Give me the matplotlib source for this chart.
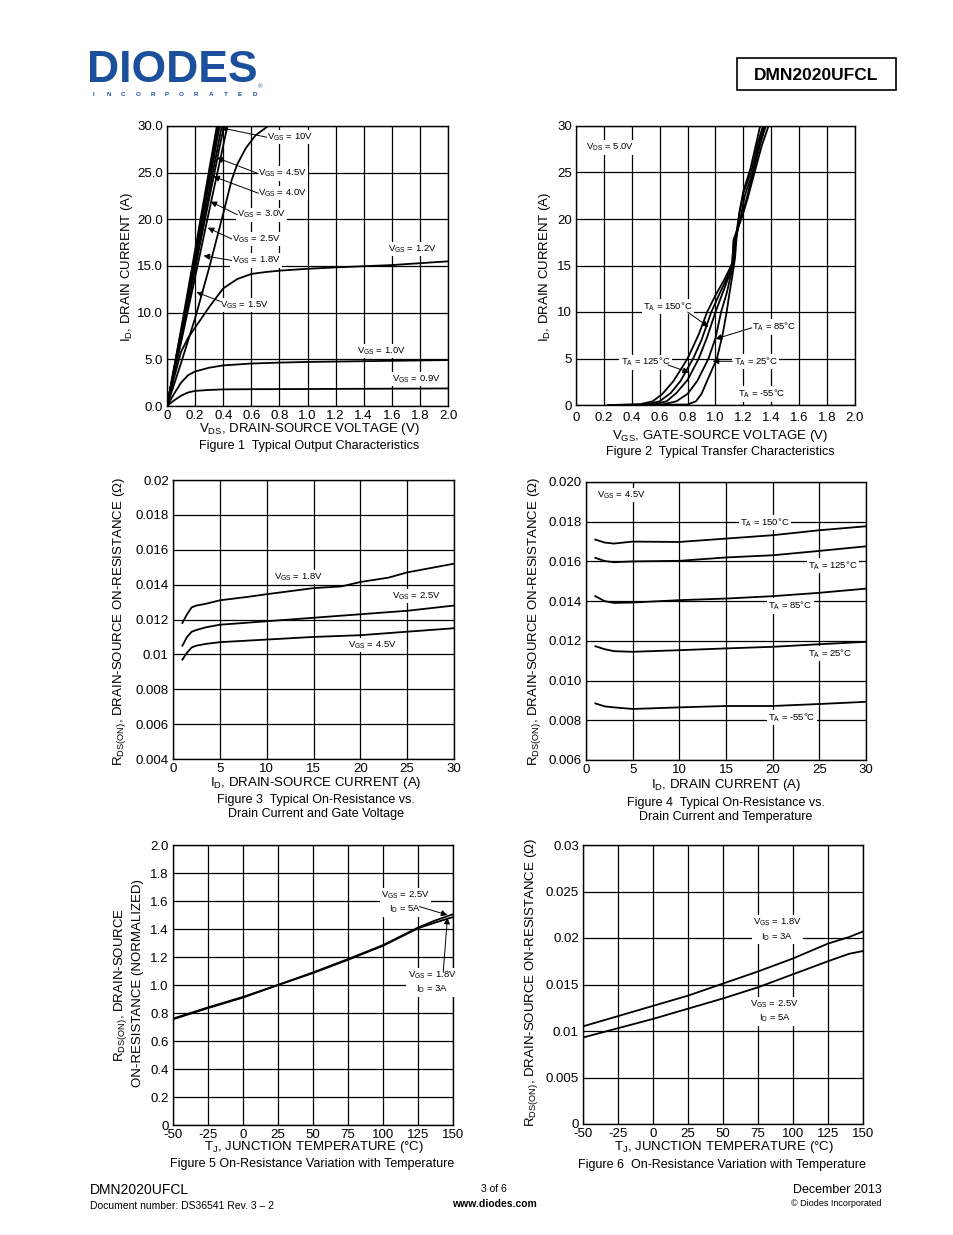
import numpy as np
import matplotlib
matplotlib.use("Agg")
import matplotlib.pyplot as plt

plt.rcParams['font.family'] = ['Liberation Sans', 'DejaVu Sans']
plt.rcParams['mathtext.fontset'] = 'custom'
plt.rcParams['mathtext.rm'] = 'Liberation Sans'
plt.rcParams['mathtext.it'] = 'Liberation Sans'
plt.rcParams['mathtext.bf'] = 'Liberation Sans:bold'

# ---- Figure 1: output characteristics (VDS, ID) per VGS
vds_10v = [0, 0.1, 0.2, 0.3, 0.355]
id_10v = [0, 8.2, 16.7, 25.3, 30]
vds_45v = [0, 0.1, 0.2, 0.3, 0.365]
id_45v = [0, 8.0, 16.3, 24.6, 30]
vds_40v = [0, 0.1, 0.2, 0.3, 0.375]
id_40v = [0, 7.8, 15.9, 23.9, 30]
vds_30v = [0, 0.1, 0.2, 0.3, 0.39]
id_30v = [0, 7.5, 15.3, 23.0, 30]
vds_25v = [0, 0.1, 0.2, 0.3, 0.405]
id_25v = [0, 7.2, 14.7, 22.2, 30]
vds_18v = [0, 0.1, 0.2, 0.3, 0.43]
id_18v = [0, 6.8, 13.8, 20.9, 30]
vds_15v = [0, 0.1, 0.2, 0.3, 0.4, 0.46, 0.5, 0.56, 0.63, 0.72]
id_15v = [0, 4.6, 9.4, 14.8, 20.6, 24.2, 25.9, 27.6, 29.0, 30.0]
vds_12v = [0, 0.05, 0.1, 0.15, 0.2, 0.3, 0.4, 0.5, 0.6, 0.7, 0.8, 1.0, 1.2, 1.6, 2.0]
id_12v = [0, 3.0, 5.8, 7.3, 8.4, 10.6, 12.6, 13.6, 14.15, 14.35, 14.5, 14.7, 14.85, 15.1, 15.5]
vds_10 = [0, 0.05, 0.1, 0.15, 0.2, 0.3, 0.4, 0.6, 0.8, 1.0, 1.5, 2.0]
id_10 = [0, 1.3, 2.5, 3.3, 3.7, 4.1, 4.35, 4.55, 4.65, 4.72, 4.82, 4.92]
vds_09 = [0, 0.05, 0.1, 0.15, 0.2, 0.3, 0.4, 0.6, 1.0, 1.5, 2.0]
id_09 = [0, 0.6, 1.1, 1.45, 1.62, 1.72, 1.78, 1.8, 1.82, 1.85, 1.88]

# ---- Figure 2: transfer characteristics (VGS, ID) per TA
vgs_150 = [0.23, 0.45, 0.55, 0.62, 0.7, 0.8, 0.88, 0.94, 1.0, 1.06, 1.12, 1.13, 1.19, 1.23, 1.28, 1.33, 1.38]
id_150 = [0, 0.05, 0.4, 1.2, 2.6, 5.0, 7.6, 10.0, 11.8, 13.4, 15.2, 17.8, 20.2, 22.2, 25.0, 27.8, 30.0]
vgs_125 = [0.23, 0.5, 0.6, 0.68, 0.75, 0.84, 0.9, 0.97, 1.03, 1.08, 1.12, 1.13, 1.18, 1.22, 1.27, 1.32, 1.36]
id_125 = [0, 0.05, 0.4, 1.3, 2.6, 5.0, 7.0, 10.0, 12.0, 13.6, 15.3, 17.6, 20.0, 22.0, 25.0, 28.0, 30.0]
vgs_85 = [0.23, 0.55, 0.65, 0.72, 0.8, 0.88, 0.94, 1.0, 1.05, 1.1, 1.13, 1.14, 1.18, 1.21, 1.27, 1.31, 1.35]
id_85 = [0, 0.05, 0.4, 1.3, 2.7, 5.0, 7.3, 10.0, 12.0, 14.0, 15.5, 17.5, 20.2, 22.5, 25.2, 28.0, 30.0]
vgs_25 = [0.23, 0.62, 0.72, 0.8, 0.87, 0.95, 1.0, 1.04, 1.08, 1.11, 1.13, 1.14, 1.17, 1.2, 1.26, 1.3, 1.34]
id_25 = [0, 0.05, 0.4, 1.2, 2.6, 5.0, 7.2, 10.0, 12.0, 14.0, 15.6, 17.6, 20.5, 22.8, 25.3, 28.0, 30.0]
vgs_m55 = [0.23, 0.8, 0.86, 0.9, 0.94, 1.01, 1.05, 1.08, 1.1, 1.12, 1.14, 1.15, 1.17, 1.2, 1.25, 1.29, 1.32]
id_m55 = [0, 0.05, 0.4, 1.2, 2.6, 5.0, 7.5, 10.0, 12.0, 13.8, 15.8, 17.8, 20.6, 23.0, 25.4, 28.0, 30.0]

# ---- Figure 3: RDS(ON) vs ID per VGS
id3_18 = [1, 1.5, 2, 2.5, 3.5, 5, 8, 10, 15, 18, 20, 23, 25, 28, 30]
r3_18 = [0.0118, 0.0123, 0.0127, 0.0128, 0.0129, 0.0131, 0.0133, 0.01345, 0.0138, 0.0139,
         0.01415, 0.0144, 0.0147, 0.0150, 0.0152]
id3_25 = [1, 1.5, 2, 2.5, 3.5, 5, 10, 15, 20, 25, 30]
r3_25 = [0.0105, 0.0110, 0.0113, 0.0114, 0.01155, 0.0117, 0.0119, 0.0121, 0.0123, 0.0125, 0.0128]
id3_45 = [1, 1.5, 2, 2.5, 3.5, 5, 10, 15, 20, 25, 30]
r3_45 = [0.0097, 0.0101, 0.0104, 0.0105, 0.0106, 0.0107, 0.01085, 0.0110, 0.0111, 0.0113, 0.0115]

# ---- Figure 4: RDS(ON) vs ID per TA
id4 = [1, 2, 3, 5, 10, 15, 20, 25, 30]
r4_150 = [0.0171, 0.01695, 0.0169, 0.0170, 0.01698, 0.01715, 0.01732, 0.01757, 0.01777]
r4_125 = [0.01618, 0.01602, 0.01596, 0.01600, 0.01603, 0.0162, 0.01631, 0.01653, 0.01676]
r4_85 = [0.01425, 0.01400, 0.01391, 0.01393, 0.01405, 0.01413, 0.01425, 0.01442, 0.01463]
r4_25 = [0.01173, 0.01158, 0.01148, 0.01145, 0.01153, 0.01162, 0.0117, 0.01183, 0.01195]
r4_m55 = [0.00885, 0.00870, 0.00865, 0.00857, 0.00865, 0.00872, 0.00872, 0.00882, 0.00893]

# ---- Figure 5: normalized RDS(ON) vs TJ
tj5 = [-50, -25, 0, 25, 50, 75, 100, 112, 125, 137, 150]
rn_25v = [0.76, 0.84, 0.915, 1.0, 1.09, 1.185, 1.285, 1.345, 1.41, 1.46, 1.505]
rn_18v = [0.755, 0.835, 0.91, 1.0, 1.085, 1.18, 1.28, 1.34, 1.405, 1.445, 1.485]

# ---- Figure 6: RDS(ON) vs TJ
tj6 = [-50, -25, 0, 25, 50, 75, 100, 125, 140, 150]
r6_18v = [0.0105, 0.0116, 0.0127, 0.0138, 0.0151, 0.0164, 0.0178, 0.0194, 0.0201, 0.0207]
r6_25v = [0.0093, 0.0103, 0.0113, 0.0124, 0.0135, 0.0147, 0.0161, 0.0175, 0.0183, 0.0186]

W, H = 954, 1235
fig = plt.figure(figsize=(W / 100, H / 100), dpi=100)
fig.patch.set_facecolor('white')

TICK_FS = 9.5
LAB_FS = 9.5
ANN_FS = 6.8
LW = 1.3


def add_ax(x0, y0, x1, y1):
    return fig.add_axes([x0 / W, 1 - y1 / H, (x1 - x0) / W, (y1 - y0) / H])


def ftext(x, y, s, **kw):
    kw.setdefault('fontsize', LAB_FS)
    kw.setdefault('ha', 'center')
    kw.setdefault('va', 'center')
    fig.text(x / W, 1 - y / H, s, **kw)


def setup(ax, xlim, ylim, xt, xtl, yt, ytl):
    ax.set_xlim(xlim)
    ax.set_ylim(ylim)
    ax.set_xticks(xt)
    ax.set_xticklabels(xtl)
    ax.set_yticks(yt)
    ax.set_yticklabels(ytl)
    ax.grid(True, color='black', lw=0.9)
    ax.set_axisbelow(True)
    ax.tick_params(length=0, labelsize=TICK_FS, pad=3)
    for s in ax.spines.values():
        s.set_linewidth(1.0)


def label(ax, x, y, s, **kw):
    kw.setdefault('ha', 'left')
    kw.setdefault('va', 'center')
    ax.text(x, y, s, fontsize=ANN_FS, zorder=5,
            bbox=dict(facecolor='white', edgecolor='none', pad=1.0), **kw)


def arrow(ax, tail, tip):
    ax.annotate('', xy=tip, xytext=tail, zorder=6,
                arrowprops=dict(arrowstyle='-|>', color='black', lw=0.7,
                                mutation_scale=9, shrinkA=0, shrinkB=0))


# ---------------- Figure 1
ax1 = add_ax(167, 126, 448, 406)
setup(ax1, (0, 2.0), (0, 30),
      np.arange(0, 2.01, 0.2), ['0', '0.2', '0.4', '0.6', '0.8', '1.0', '1.2', '1.4', '1.6', '1.8', '2.0'],
      np.arange(0, 30.1, 5), ['0.0', '5.0', '10.0', '15.0', '20.0', '25.0', '30.0'])
for xs, ys in [(vds_10v, id_10v), (vds_45v, id_45v), (vds_40v, id_40v), (vds_30v, id_30v),
               (vds_25v, id_25v), (vds_18v, id_18v), (vds_15v, id_15v), (vds_12v, id_12v),
               (vds_10, id_10), (vds_09, id_09)]:
    ax1.plot(xs, ys, color='black', lw=LW, zorder=3)
label(ax1, 0.71, 28.8, r'V$_{\mathrm{GS}}$ = 10V')
arrow(ax1, (0.71, 28.8), (0.385, 29.8))
label(ax1, 0.65, 24.9, r'V$_{\mathrm{GS}}$ = 4.5V')
arrow(ax1, (0.65, 24.9), (0.355, 26.6))
label(ax1, 0.65, 22.8, r'V$_{\mathrm{GS}}$ = 4.0V')
arrow(ax1, (0.65, 22.8), (0.33, 24.6))
label(ax1, 0.50, 20.5, r'V$_{\mathrm{GS}}$ = 3.0V')
arrow(ax1, (0.50, 20.5), (0.31, 21.9))
label(ax1, 0.46, 17.9, r'V$_{\mathrm{GS}}$ = 2.5V')
arrow(ax1, (0.46, 17.9), (0.29, 19.1))
label(ax1, 0.46, 15.6, r'V$_{\mathrm{GS}}$ = 1.8V')
arrow(ax1, (0.46, 15.6), (0.26, 16.1))
label(ax1, 0.38, 10.8, r'V$_{\mathrm{GS}}$ = 1.5V')
arrow(ax1, (0.38, 11.2), (0.21, 12.2))
label(ax1, 1.57, 16.8, r'V$_{\mathrm{GS}}$ = 1.2V')
label(ax1, 1.35, 5.9, r'V$_{\mathrm{GS}}$ = 1.0V')
label(ax1, 1.6, 2.9, r'V$_{\mathrm{GS}}$ = 0.9V')
ftext(127, 267, r'I$_{\mathrm{D}}$, DRAIN CURRENT (A)', rotation=90)
ftext(309, 429, r'V$_{\mathrm{DS}}$, DRAIN-SOURCE VOLTAGE (V)')
ftext(309, 446, 'Figure 1  Typical Output Characteristics', fontsize=9)

# ---------------- Figure 2
ax2 = add_ax(576, 126, 855, 405)
setup(ax2, (0, 2.0), (0, 30),
      np.arange(0, 2.01, 0.2), ['0', '0.2', '0.4', '0.6', '0.8', '1.0', '1.2', '1.4', '1.6', '1.8', '2.0'],
      np.arange(0, 30.1, 5), ['0', '5', '10', '15', '20', '25', '30'])
ax2.tick_params(axis='x', pad=5)
for xs, ys in [(vgs_150, id_150), (vgs_125, id_125), (vgs_85, id_85), (vgs_25, id_25), (vgs_m55, id_m55)]:
    ax2.plot(xs, ys, color='black', lw=LW, zorder=3)
label(ax2, 0.07, 27.7, r'V$_{\mathrm{DS}}$ = 5.0V')
label(ax2, 0.48, 10.6, r'T$_{\mathrm{A}}$ = 150°C')
arrow(ax2, (0.80, 10.0), (0.95, 8.4))
label(ax2, 1.26, 8.4, r'T$_{\mathrm{A}}$ = 85°C')
arrow(ax2, (1.26, 8.3), (1.0, 7.1))
label(ax2, 0.32, 4.6, r'T$_{\mathrm{A}}$ = 125°C')
arrow(ax2, (0.66, 4.3), (0.81, 3.5))
label(ax2, 1.13, 4.7, r'T$_{\mathrm{A}}$ = 25°C')
arrow(ax2, (1.12, 4.7), (0.98, 4.7))
label(ax2, 1.16, 1.2, r'T$_{\mathrm{A}}$ = -55°C')
ftext(545, 267, r'I$_{\mathrm{D}}$, DRAIN CURRENT (A)', rotation=90)
ftext(720, 436, r'V$_{\mathrm{GS}}$, GATE-SOURCE VOLTAGE (V)')
ftext(720, 452, 'Figure 2  Typical Transfer Characteristics', fontsize=9)

# ---------------- Figure 3
ax3 = add_ax(173, 480, 454, 759)
setup(ax3, (0, 30), (0.004, 0.02),
      np.arange(0, 31, 5), ['0', '5', '10', '15', '20', '25', '30'],
      np.arange(0.004, 0.02001, 0.002),
      ['0.004', '0.006', '0.008', '0.01', '0.012', '0.014', '0.016', '0.018', '0.02'])
for xs, ys in [(id3_18, r3_18), (id3_25, r3_25), (id3_45, r3_45)]:
    ax3.plot(xs, ys, color='black', lw=LW, zorder=3)
label(ax3, 10.8, 0.01445, r'V$_{\mathrm{GS}}$ = 1.8V')
label(ax3, 23.4, 0.01335, r'V$_{\mathrm{GS}}$ = 2.5V')
label(ax3, 18.7, 0.01055, r'V$_{\mathrm{GS}}$ = 4.5V')
ftext(120, 622, r'R$_{\mathrm{DS(ON)}}$, DRAIN-SOURCE ON-RESISTANCE ($\Omega$)', rotation=90)
ftext(316, 783, r'I$_{\mathrm{D}}$, DRAIN-SOURCE CURRENT (A)')
ftext(316, 800, 'Figure 3  Typical On-Resistance vs.', fontsize=9)
ftext(316, 814, 'Drain Current and Gate Voltage', fontsize=9)

# ---------------- Figure 4
ax4 = add_ax(586, 482, 866, 760)
setup(ax4, (0, 30), (0.006, 0.020),
      np.arange(0, 31, 5), ['0', '5', '10', '15', '20', '25', '30'],
      np.arange(0.006, 0.02001, 0.002),
      ['0.006', '0.008', '0.010', '0.012', '0.014', '0.016', '0.018', '0.020'])
for ys in [r4_150, r4_125, r4_85, r4_25, r4_m55]:
    ax4.plot(id4, ys, color='black', lw=LW, zorder=3)
label(ax4, 1.2, 0.01935, r'V$_{\mathrm{GS}}$ = 4.5V')
label(ax4, 16.5, 0.01795, r'T$_{\mathrm{A}}$ = 150°C')
label(ax4, 23.8, 0.0158, r'T$_{\mathrm{A}}$ = 125°C')
label(ax4, 19.5, 0.01375, r'T$_{\mathrm{A}}$ = 85°C')
label(ax4, 23.8, 0.01135, r'T$_{\mathrm{A}}$ = 25°C')
label(ax4, 19.5, 0.00815, r'T$_{\mathrm{A}}$ = -55°C')
ftext(535, 622, r'R$_{\mathrm{DS(ON)}}$, DRAIN-SOURCE ON-RESISTANCE ($\Omega$)', rotation=90)
ftext(726, 785, r'I$_{\mathrm{D}}$, DRAIN CURRENT (A)')
ftext(726, 803, 'Figure 4  Typical On-Resistance vs.', fontsize=9)
ftext(726, 817, 'Drain Current and Temperature', fontsize=9)

# ---------------- Figure 5
ax5 = add_ax(173, 845, 453, 1125)
setup(ax5, (-50, 150), (0, 2.0),
      np.arange(-50, 151, 25), ['-50', '-25', '0', '25', '50', '75', '100', '125', '150'],
      np.arange(0, 2.01, 0.2), ['0', '0.2', '0.4', '0.6', '0.8', '1.0', '1.2', '1.4', '1.6', '1.8', '2.0'])
ax5.plot(tj5, rn_25v, color='black', lw=LW, zorder=3)
ax5.plot(tj5, rn_18v, color='black', lw=LW, zorder=3)
label(ax5, 116, 1.59, 'V$_{\\mathrm{GS}}$ = 2.5V\nI$_{\\mathrm{D}}$ = 5A', ha='center', multialignment='center')
arrow(ax5, (126, 1.56), (146, 1.5))
label(ax5, 135, 1.02, 'V$_{\\mathrm{GS}}$ = 1.8V\nI$_{\\mathrm{D}}$ = 3A', ha='center', multialignment='center')
arrow(ax5, (143, 1.09), (146, 1.48))
ftext(121, 985, r'R$_{\mathrm{DS(ON)}}$, DRAIN-SOURCE', rotation=90)
ftext(138, 983, 'ON-RESISTANCE (NORMALIZED)', rotation=90)
ftext(314, 1147, r'T$_{\mathrm{J}}$, JUNCTION TEMPERATURE (°C)')
ftext(312, 1164, 'Figure 5 On-Resistance Variation with Temperature', fontsize=9)

# ---------------- Figure 6
ax6 = add_ax(583, 845, 863, 1124)
setup(ax6, (-50, 150), (0, 0.03),
      np.arange(-50, 151, 25), ['-50', '-25', '0', '25', '50', '75', '100', '125', '150'],
      np.arange(0, 0.03001, 0.005), ['0', '0.005', '0.01', '0.015', '0.02', '0.025', '0.03'])
ax6.plot(tj6, r6_18v, color='black', lw=LW, zorder=3)
ax6.plot(tj6, r6_25v, color='black', lw=LW, zorder=3)
label(ax6, 89, 0.0209, 'V$_{\\mathrm{GS}}$ = 1.8V\nI$_{\\mathrm{D}}$ = 3A', ha='center', multialignment='center')
label(ax6, 87, 0.0121, 'V$_{\\mathrm{GS}}$ = 2.5V\nI$_{\\mathrm{D}}$ = 5A', ha='center', multialignment='center')
ftext(532, 983, r'R$_{\mathrm{DS(ON)}}$, DRAIN-SOURCE ON-RESISTANCE ($\Omega$)', rotation=90)
ftext(724, 1147, r'T$_{\mathrm{J}}$, JUNCTION TEMPERATURE (°C)')
ftext(722, 1165, 'Figure 6  On-Resistance Variation with Temperature', fontsize=9)

# ---------------- Header
ftext(172, 71, 'DIODES', fontsize=32, fontweight='heavy', color='#1c4f9c')
for i, ch in enumerate('INCORPORATED'):
    ftext(94 + i * 14.6, 94, ch, fontsize=4.5, fontweight='bold', color='#1c4f9c')
ftext(260, 87, '®', fontsize=4.5, color='#1c4f9c')
box = plt.Rectangle((737 / W, 1 - 90 / H), 159 / W, 32 / H, transform=fig.transFigure,
                    fill=False, edgecolor='black', lw=1.2)
fig.add_artist(box)
ftext(816, 75, 'DMN2020UFCL', fontsize=12.5, fontweight='bold')

# ---------------- Footer
ftext(90, 1190, 'DMN2020UFCL', fontsize=10, ha='left')
ftext(90, 1206, 'Document number: DS36541 Rev. 3 \u2013 2', fontsize=7.5, ha='left')
ftext(494, 1189, '3 of 6', fontsize=7.5)
ftext(494, 1204, 'www.diodes.com', fontsize=7.5, fontweight='bold')
ftext(882, 1190, 'December 2013', fontsize=9, ha='right')
ftext(882, 1204, '\u00a9 Diodes Incorporated', fontsize=6.5, ha='right')

fig.savefig('out.png', dpi=100, facecolor='white')
